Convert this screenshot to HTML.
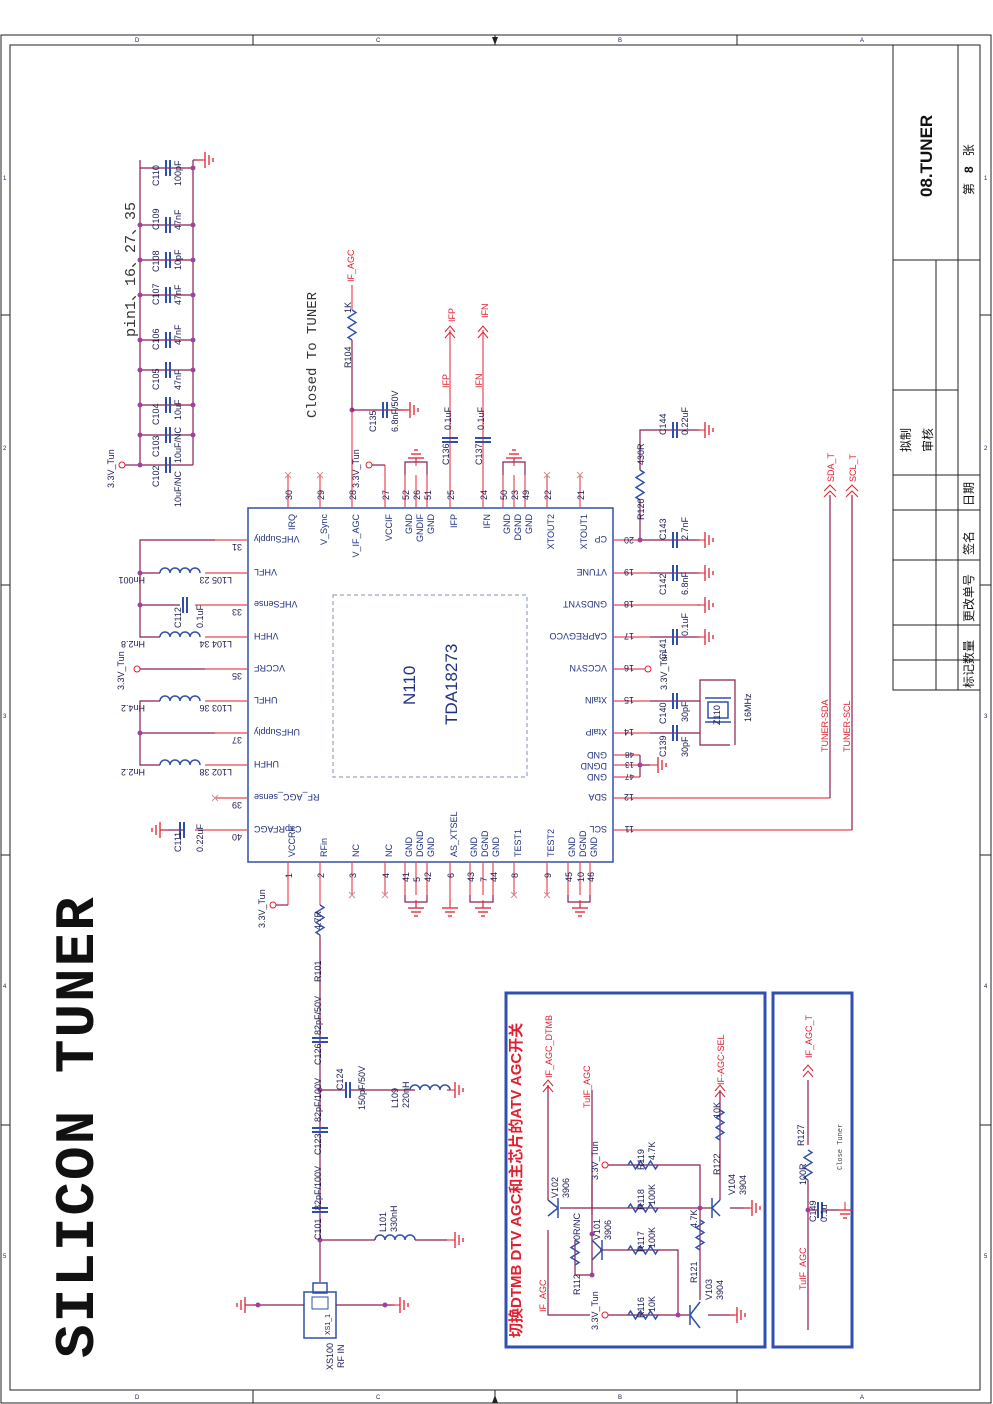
<!DOCTYPE html>
<html><head><meta charset="utf-8"><style>
html,body{margin:0;padding:0;background:#fff;}
svg{display:block;}
text{font-family:"Liberation Sans","Noto Sans CJK SC",sans-serif;font-size:9px;fill:#1a1a50;}
.r{fill:#e02030;}
.b{fill:#203080;}
.k{fill:#222;}
.w{stroke:#8a2050;stroke-width:1.2;fill:none;}
.p{stroke:#e84858;stroke-width:1.2;fill:none;}
.c{stroke:#3050a8;stroke-width:1.5;fill:none;}
.d{fill:#a040a0;}
</style></head><body>
<svg width="993" height="1404" viewBox="0 0 993 1404" xmlns="http://www.w3.org/2000/svg">
<defs>
<g id="gR"><line x1="-8" y1="0" x2="0" y2="0" stroke="#e02030"/><line x1="0" y1="-8" x2="0" y2="8" stroke="#e02030" stroke-width="1.3"/><line x1="4" y1="-5" x2="4" y2="5" stroke="#e02030" stroke-width="1.3"/><line x1="8" y1="-2" x2="8" y2="2" stroke="#e02030" stroke-width="1.3"/></g>
<g id="ind"><path d="M0,0 a5,5 0 0 1 10,0 a5,5 0 0 1 10,0 a5,5 0 0 1 10,0 a5,5 0 0 1 10,0" stroke="#3050a8" stroke-width="1.5" fill="none"/></g>
<g id="res"><path d="M0,0 l4,2.5 l-8,5 l8,5 l-8,5 l8,5 l-8,5 l4,2.5" stroke="#3050a8" stroke-width="1.4" fill="none"/></g>
<g id="capH"><line x1="-2" y1="-8" x2="-2" y2="8" stroke="#3050a8" stroke-width="2"/><line x1="2" y1="-8" x2="2" y2="8" stroke="#3050a8" stroke-width="2"/></g>
<g id="capV"><line x1="-8" y1="-2" x2="8" y2="-2" stroke="#3050a8" stroke-width="2"/><line x1="-8" y1="2" x2="8" y2="2" stroke="#3050a8" stroke-width="2"/></g>
<g id="xm"><line x1="-3" y1="-3" x2="3" y2="3" stroke="#d09090"/><line x1="-3" y1="3" x2="3" y2="-3" stroke="#d09090"/></g>
</defs>

<!-- frame -->
<rect x="1" y="35" width="990" height="1368" fill="none" stroke="#222" stroke-width="1"/>
<rect x="10" y="45" width="970" height="1345" fill="none" stroke="#222" stroke-width="1"/>
<g stroke="#222">
<line x1="253" y1="35" x2="253" y2="45"/><line x1="495" y1="35" x2="495" y2="45"/><line x1="737" y1="35" x2="737" y2="45"/>
<line x1="253" y1="1390" x2="253" y2="1403"/><line x1="495" y1="1390" x2="495" y2="1403"/><line x1="737" y1="1390" x2="737" y2="1403"/>
<line x1="1" y1="315" x2="10" y2="315"/><line x1="1" y1="585" x2="10" y2="585"/><line x1="1" y1="855" x2="10" y2="855"/><line x1="1" y1="1125" x2="10" y2="1125"/>
<line x1="980" y1="315" x2="991" y2="315"/><line x1="980" y1="585" x2="991" y2="585"/><line x1="980" y1="855" x2="991" y2="855"/><line x1="980" y1="1125" x2="991" y2="1125"/>
</g>
<g font-size="6">
<text x="135" y="42" style="font-size:6px">D</text><text x="376" y="42" style="font-size:6px">C</text><text x="618" y="42" style="font-size:6px">B</text><text x="860" y="42" style="font-size:6px">A</text>
<text x="135" y="1399" style="font-size:6px">D</text><text x="376" y="1399" style="font-size:6px">C</text><text x="618" y="1399" style="font-size:6px">B</text><text x="860" y="1399" style="font-size:6px">A</text>
<text x="3" y="180" style="font-size:6px">1</text><text x="3" y="450" style="font-size:6px">2</text><text x="3" y="718" style="font-size:6px">3</text><text x="3" y="988" style="font-size:6px">4</text><text x="3" y="1258" style="font-size:6px">5</text>
<text x="984" y="180" style="font-size:6px">1</text><text x="984" y="450" style="font-size:6px">2</text><text x="984" y="718" style="font-size:6px">3</text><text x="984" y="988" style="font-size:6px">4</text><text x="984" y="1258" style="font-size:6px">5</text>
</g>
<polygon points="492,37 498,37 495,45" fill="#222"/><polygon points="492,1403 498,1403 495,1395" fill="#222"/>

<!-- title block -->
<g stroke="#222" fill="none">
<rect x="893" y="45" width="87" height="645"/>
<line x1="893" y1="260" x2="980" y2="260"/>
<line x1="936" y1="260" x2="936" y2="690"/><line x1="958" y1="45" x2="958" y2="690"/>
<line x1="893" y1="390" x2="958" y2="390"/><line x1="893" y1="475" x2="980" y2="475"/>
<line x1="893" y1="510" x2="980" y2="510"/><line x1="893" y1="560" x2="980" y2="560"/>
<line x1="893" y1="625" x2="980" y2="625"/><line x1="893" y1="660" x2="980" y2="660"/>
</g>
<text transform="translate(932,197) rotate(-90)" style="font-size:17px;font-weight:bold;fill:#111">08.TUNER</text>
<text transform="translate(973,195) rotate(-90)" style="font-size:12px;fill:#111">第&#160;&#160;&#160;<tspan font-weight="bold">8</tspan>&#160;&#160;&#160;张</text>
<text transform="translate(910,452) rotate(-90)" style="font-size:12px;fill:#111">拟制</text>
<text transform="translate(932,452) rotate(-90)" style="font-size:12px;fill:#111">审核</text>
<text transform="translate(973,506) rotate(-90)" style="font-size:12px;fill:#111">日期</text>
<text transform="translate(973,555) rotate(-90)" style="font-size:12px;fill:#111">签名</text>
<text transform="translate(973,622) rotate(-90)" style="font-size:12px;fill:#111">更改单号</text>
<text transform="translate(973,688) rotate(-90)" style="font-size:12px;fill:#111">标记数量</text>

<!-- big title -->
<text transform="translate(93,1358) rotate(-90)" style="font-family:'Liberation Mono',monospace;font-size:56px;font-weight:bold;fill:#111;letter-spacing:2px">SILICON TUNER</text>
<text transform="translate(135,337) rotate(-90)" style="font-family:'Liberation Mono','Noto Sans CJK SC',monospace;font-size:15px;fill:#333">pin1、16、27、35</text>
<text transform="translate(316,418) rotate(-90)" style="font-family:'Liberation Mono',monospace;font-size:14px;fill:#333">Closed To TUNER</text>

<!-- IC -->
<rect x="248" y="508" width="365" height="354" fill="none" stroke="#3050a8" stroke-width="1.5"/>
<rect x="333" y="595" width="194" height="182" fill="none" stroke="#8090c0" stroke-dasharray="4,3"/>
<text transform="translate(415,705) rotate(-90)" style="font-size:17px;fill:#203080">N110</text>
<text transform="translate(457,725) rotate(-90)" style="font-size:17px;fill:#203080">TDA18273</text>

<!-- top pins -->
<g class="p">
<line x1="288" y1="475" x2="288" y2="508"/><line x1="320" y1="475" x2="320" y2="508"/><line x1="352" y1="410" x2="352" y2="508"/><line x1="385" y1="465" x2="385" y2="508"/>
<line x1="405" y1="475" x2="405" y2="508"/><line x1="416" y1="475" x2="416" y2="508"/><line x1="427" y1="475" x2="427" y2="508"/>
<line x1="450" y1="330" x2="450" y2="508"/><line x1="483" y1="330" x2="483" y2="508"/>
<line x1="503" y1="475" x2="503" y2="508"/><line x1="514" y1="475" x2="514" y2="508"/><line x1="525" y1="475" x2="525" y2="508"/>
<line x1="547" y1="475" x2="547" y2="508"/><line x1="580" y1="475" x2="580" y2="508"/>
</g>
<use href="#xm" x="288" y="475"/><use href="#xm" x="320" y="475"/><use href="#xm" x="547" y="475"/><use href="#xm" x="580" y="475"/>
<g>
<text transform="translate(292,500) rotate(-90)">30</text><text transform="translate(324,500) rotate(-90)">29</text><text transform="translate(356,500) rotate(-90)">28</text><text transform="translate(389,500) rotate(-90)">27</text>
<text transform="translate(409,500) rotate(-90)">52</text><text transform="translate(420,500) rotate(-90)">26</text><text transform="translate(431,500) rotate(-90)">51</text>
<text transform="translate(454,500) rotate(-90)">25</text><text transform="translate(487,500) rotate(-90)">24</text>
<text transform="translate(507,500) rotate(-90)">50</text><text transform="translate(518,500) rotate(-90)">23</text><text transform="translate(529,500) rotate(-90)">49</text>
<text transform="translate(551,500) rotate(-90)">22</text><text transform="translate(584,500) rotate(-90)">21</text>
</g>
<g class="b">
<text class="b" text-anchor="end" transform="translate(295,514) rotate(-90)">IRQ</text>
<text class="b" text-anchor="end" transform="translate(327,514) rotate(-90)">V_Sync</text>
<text class="b" text-anchor="end" transform="translate(359,514) rotate(-90)">V_IF_AGC</text>
<text class="b" text-anchor="end" transform="translate(392,514) rotate(-90)">VCCIF</text>
<text class="b" text-anchor="end" transform="translate(412,514) rotate(-90)">GND</text>
<text class="b" text-anchor="end" transform="translate(423,514) rotate(-90)">GNDIF</text>
<text class="b" text-anchor="end" transform="translate(434,514) rotate(-90)">GND</text>
<text class="b" text-anchor="end" transform="translate(457,514) rotate(-90)">IFP</text>
<text class="b" text-anchor="end" transform="translate(490,514) rotate(-90)">IFN</text>
<text class="b" text-anchor="end" transform="translate(510,514) rotate(-90)">GND</text>
<text class="b" text-anchor="end" transform="translate(521,514) rotate(-90)">DGND</text>
<text class="b" text-anchor="end" transform="translate(532,514) rotate(-90)">GND</text>
<text class="b" text-anchor="end" transform="translate(554,514) rotate(-90)">XTOUT2</text>
<text class="b" text-anchor="end" transform="translate(587,514) rotate(-90)">XTOUT1</text>
</g>

<!-- top circuits -->
<circle cx="352" cy="410" r="2.5" class="d"/>
<line x1="352" y1="410" x2="352" y2="340" class="w"/>
<use href="#res" x="352" y="310"/>
<line x1="352" y1="310" x2="352" y2="285" class="p"/>
<text class="r" transform="translate(354,282) rotate(-90)">IF_AGC</text>
<text transform="translate(351,313) rotate(-90)">1K</text>
<text transform="translate(351,368) rotate(-90)">R104</text>
<line x1="352" y1="410" x2="408" y2="410" class="w"/>
<use href="#capH" x="385" y="410"/><use href="#gR" x="410" y="410"/>
<text transform="translate(376,432) rotate(-90)">C135</text>
<text transform="translate(398,432) rotate(-90)">6.8nF/50V</text>
<circle cx="369" cy="465" r="3" fill="none" stroke="#e02030"/><line x1="372" y1="465" x2="385" y2="465" class="w"/>
<text transform="translate(359,488) rotate(-90)">3.3V_Tun</text>
<path d="M405,475 V462 H427 V475" class="w"/><line x1="416" y1="462" x2="416" y2="458" class="w"/>
<use href="#gR" transform="translate(416,458) rotate(-90)"/>
<path d="M503,475 V462 H525 V475" class="w"/><line x1="514" y1="462" x2="514" y2="458" class="w"/>
<use href="#gR" transform="translate(514,458) rotate(-90)"/>
<use href="#capV" x="450" y="440"/><use href="#capV" x="483" y="440"/>
<text transform="translate(449,465) rotate(-90)">C136</text><text transform="translate(451,430) rotate(-90)">0.1uF</text>
<text transform="translate(482,465) rotate(-90)">C137</text><text transform="translate(484,430) rotate(-90)">0.1uF</text>
<text class="r" transform="translate(449,388) rotate(-90)">IFP</text><text class="r" transform="translate(482,388) rotate(-90)">IFN</text>
<path d="M445,338 l5,-6 l5,6 M445,332 l5,-6 l5,6" stroke="#e02030" fill="none"/>
<path d="M478,338 l5,-6 l5,6 M478,332 l5,-6 l5,6" stroke="#e02030" fill="none"/>
<text class="r" transform="translate(455,322) rotate(-90)">IFP</text><text class="r" transform="translate(488,318) rotate(-90)">IFN</text>

<!-- cap stack top-left -->
<g class="w"><line x1="140" y1="160" x2="140" y2="465"/><line x1="193" y1="160" x2="193" y2="465"/>
<line x1="125" y1="465" x2="140" y2="465"/><line x1="193" y1="160" x2="203" y2="160"/></g>
<circle cx="122" cy="465" r="3" fill="none" stroke="#e02030"/>
<text transform="translate(114,488) rotate(-90)">3.3V_Tun</text>
<use href="#gR" x="205" y="160"/>
<g class="w">
<line x1="140" y1="465" x2="193" y2="465"/><line x1="140" y1="435" x2="193" y2="435"/><line x1="140" y1="405" x2="193" y2="405"/><line x1="140" y1="370" x2="193" y2="370"/><line x1="140" y1="340" x2="193" y2="340"/><line x1="140" y1="295" x2="193" y2="295"/><line x1="140" y1="260" x2="193" y2="260"/><line x1="140" y1="225" x2="193" y2="225"/><line x1="140" y1="168" x2="193" y2="168"/>
</g>
<use href="#capH" x="168" y="465"/><use href="#capH" x="168" y="435"/><use href="#capH" x="168" y="405"/><use href="#capH" x="168" y="370"/><use href="#capH" x="168" y="340"/><use href="#capH" x="168" y="295"/><use href="#capH" x="168" y="260"/><use href="#capH" x="168" y="225"/><use href="#capH" x="168" y="168"/>
<g fill="#a040a0"><circle cx="140" cy="465" r="2.5"/><circle cx="140" cy="435" r="2.5"/><circle cx="193" cy="435" r="2.5"/><circle cx="140" cy="405" r="2.5"/><circle cx="193" cy="405" r="2.5"/><circle cx="140" cy="370" r="2.5"/><circle cx="193" cy="370" r="2.5"/><circle cx="140" cy="340" r="2.5"/><circle cx="193" cy="340" r="2.5"/><circle cx="140" cy="295" r="2.5"/><circle cx="193" cy="295" r="2.5"/><circle cx="140" cy="260" r="2.5"/><circle cx="193" cy="260" r="2.5"/><circle cx="140" cy="225" r="2.5"/><circle cx="193" cy="225" r="2.5"/><circle cx="193" cy="168" r="2.5"/></g>
<g>
<text transform="translate(159,487) rotate(-90)">C102</text><text transform="translate(181,507) rotate(-90)">10uF/NC</text>
<text transform="translate(159,457) rotate(-90)">C103</text><text transform="translate(181,463) rotate(-90)">10uF/NC</text>
<text transform="translate(159,425) rotate(-90)">C104</text><text transform="translate(181,420) rotate(-90)">10uF</text>
<text transform="translate(159,390) rotate(-90)">C105</text><text transform="translate(181,390) rotate(-90)">47nF</text>
<text transform="translate(159,350) rotate(-90)">C106</text><text transform="translate(181,345) rotate(-90)">47nF</text>
<text transform="translate(159,305) rotate(-90)">C107</text><text transform="translate(181,305) rotate(-90)">47nF</text>
<text transform="translate(159,272) rotate(-90)">C108</text><text transform="translate(181,270) rotate(-90)">10pF</text>
<text transform="translate(159,230) rotate(-90)">C109</text><text transform="translate(181,230) rotate(-90)">47nF</text>
<text transform="translate(159,186) rotate(-90)">C110</text><text transform="translate(181,186) rotate(-90)">100pF</text>
</g>

<!-- left pins -->
<g class="p">
<line x1="215" y1="540" x2="248" y2="540"/><line x1="205" y1="573" x2="248" y2="573"/><line x1="195" y1="605" x2="248" y2="605"/><line x1="205" y1="637" x2="248" y2="637"/>
<line x1="205" y1="669" x2="248" y2="669"/><line x1="205" y1="701" x2="248" y2="701"/><line x1="215" y1="733" x2="248" y2="733"/><line x1="205" y1="765" x2="248" y2="765"/>
<line x1="215" y1="798" x2="248" y2="798"/><line x1="195" y1="830" x2="248" y2="830"/>
</g>
<use href="#xm" x="215" y="798"/>
<g class="w">
<path d="M215,540 H140 V637 H160"/><line x1="140" y1="573" x2="160" y2="573"/><line x1="140" y1="605" x2="180" y2="605"/>
<path d="M205,669 H140"/>
<path d="M215,733 H140 V765 H160"/><path d="M140,733 V701 H160"/>
<path d="M185,830 H160"/>
</g>
<circle cx="140" cy="573" r="2.5" class="d"/><circle cx="140" cy="605" r="2.5" class="d"/><circle cx="140" cy="733" r="2.5" class="d"/>
<circle cx="137" cy="669" r="3" fill="#fff" stroke="#e02030"/>
<text transform="translate(124,690) rotate(-90)">3.3V_Tun</text>
<use href="#ind" x="160" y="573"/><use href="#ind" x="160" y="637"/><use href="#ind" x="160" y="701"/><use href="#ind" x="160" y="765"/>
<use href="#capH" x="185" y="605"/><use href="#capH" x="182" y="830"/>
<use href="#gR" transform="translate(160,830) scale(-1,1)"/>
<g>
<text transform="translate(145,577) rotate(180)">Hn001</text><text transform="translate(232,577) rotate(180)">L105 23</text>
<text transform="translate(145,641) rotate(180)">Hn2.8</text><text transform="translate(232,641) rotate(180)">L104 34</text>
<text transform="translate(145,705) rotate(180)">Hn4.2</text><text transform="translate(232,705) rotate(180)">L103 36</text>
<text transform="translate(145,769) rotate(180)">Hn2.2</text><text transform="translate(232,769) rotate(180)">L102 38</text>
<text transform="translate(242,544) rotate(180)">31</text><text transform="translate(242,609) rotate(180)">33</text><text transform="translate(242,673) rotate(180)">35</text><text transform="translate(242,737) rotate(180)">37</text><text transform="translate(242,802) rotate(180)">39</text><text transform="translate(242,834) rotate(180)">40</text>
</g>
<text transform="translate(181,628) rotate(-90)">C112</text><text transform="translate(203,628) rotate(-90)">0.1uF</text>
<text transform="translate(181,852) rotate(-90)">C111</text><text transform="translate(203,852) rotate(-90)">0.22uF</text>
<g class="b">
<text class="b" text-anchor="end" transform="translate(254,536) rotate(180)">VHFSupply</text>
<text class="b" text-anchor="end" transform="translate(254,569) rotate(180)">VHFL</text>
<text class="b" text-anchor="end" transform="translate(254,601) rotate(180)">VHFSense</text>
<text class="b" text-anchor="end" transform="translate(254,633) rotate(180)">VHFH</text>
<text class="b" text-anchor="end" transform="translate(254,665) rotate(180)">VCCRF</text>
<text class="b" text-anchor="end" transform="translate(254,697) rotate(180)">UHFL</text>
<text class="b" text-anchor="end" transform="translate(254,729) rotate(180)">UHFSupply</text>
<text class="b" text-anchor="end" transform="translate(254,761) rotate(180)">UHFH</text>
<text class="b" text-anchor="end" transform="translate(254,794) rotate(180)">RF_AGC_sense</text>
<text class="b" text-anchor="end" transform="translate(254,826) rotate(180)">CapRFAGC</text>
</g>

<!-- right pins -->
<g class="p">
<line x1="613" y1="540" x2="640" y2="540"/><line x1="613" y1="573" x2="650" y2="573"/><line x1="613" y1="605" x2="700" y2="605"/><line x1="613" y1="637" x2="650" y2="637"/>
<line x1="613" y1="669" x2="645" y2="669"/><line x1="613" y1="701" x2="650" y2="701"/><line x1="613" y1="733" x2="650" y2="733"/>
<line x1="613" y1="755" x2="640" y2="755"/><line x1="613" y1="765" x2="640" y2="765"/><line x1="613" y1="777" x2="640" y2="777"/>
<line x1="613" y1="798" x2="830" y2="798"/><line x1="613" y1="830" x2="852" y2="830"/>
</g>
<g class="w">
<path d="M640,540 V500"/><path d="M640,470 V430 H700"/><path d="M640,540 H700"/><path d="M650,573 H700"/><path d="M650,637 H700"/>
<path d="M640,755 V777 M640,765 H650"/>
<path d="M650,701 H700 V745 H730 M650,733 H700 M715,680 H735 V745"/>
<path d="M830,798 V495 M852,830 V495"/>
</g>
<path d="M640,500 l-4,-2.5 l8,-5 l-8,-5 l8,-5 l-8,-5 l8,-5 l-4,-2.5" class="c"/>
<circle cx="640" cy="540" r="2.5" class="d"/><circle cx="640" cy="765" r="2.5" class="d"/>
<use href="#capH" x="675" y="430"/><use href="#capH" x="675" y="540"/><use href="#capH" x="675" y="573"/><use href="#capH" x="675" y="637"/><use href="#capH" x="675" y="701"/><use href="#capH" x="675" y="733"/>
<use href="#gR" x="705" y="430"/><use href="#gR" x="705" y="540"/><use href="#gR" x="705" y="573"/><use href="#gR" x="705" y="605"/><use href="#gR" x="705" y="637"/><use href="#gR" x="658" y="765"/>
<circle cx="648" cy="669" r="3" fill="#fff" stroke="#e02030"/>
<text transform="translate(667,690) rotate(-90)">3.3V_Tun</text>
<rect x="708" y="702" width="20" height="16" fill="none" stroke="#3050a8" stroke-width="1.5"/>
<line x1="705" y1="698" x2="731" y2="698" stroke="#3050a8" stroke-width="1.5"/><line x1="705" y1="722" x2="731" y2="722" stroke="#3050a8" stroke-width="1.5"/>
<path d="M700,701 V680 H715" class="w"/>
<text transform="translate(720,725) rotate(-90)">Z110</text><text transform="translate(751,722) rotate(-90)">16MHz</text>
<g>
<text transform="translate(644,520) rotate(-90)">R120</text><text transform="translate(644,465) rotate(-90)">430R</text>
<text transform="translate(666,435) rotate(-90)">C144</text><text transform="translate(688,435) rotate(-90)">0.22uF</text>
<text transform="translate(666,540) rotate(-90)">C143</text><text transform="translate(688,540) rotate(-90)">2.7nF</text>
<text transform="translate(666,595) rotate(-90)">C142</text><text transform="translate(688,595) rotate(-90)">6.8nF</text>
<text transform="translate(666,660) rotate(-90)">C141</text><text transform="translate(688,636) rotate(-90)">0.1uF</text>
<text transform="translate(666,724) rotate(-90)">C140</text><text transform="translate(688,722) rotate(-90)">30pF</text>
<text transform="translate(666,757) rotate(-90)">C139</text><text transform="translate(688,757) rotate(-90)">30pF</text>
</g>
<g>
<text transform="translate(634,537) rotate(180)">20</text><text transform="translate(634,569) rotate(180)">19</text><text transform="translate(634,601) rotate(180)">18</text><text transform="translate(634,633) rotate(180)">17</text><text transform="translate(634,665) rotate(180)">16</text><text transform="translate(634,697) rotate(180)">15</text><text transform="translate(634,729) rotate(180)">14</text>
<text transform="translate(634,752) rotate(180)" style="font-size:8px">48</text><text transform="translate(634,762) rotate(180)" style="font-size:8px">13</text><text transform="translate(634,774) rotate(180)" style="font-size:8px">47</text>
<text transform="translate(634,794) rotate(180)">12</text><text transform="translate(634,826) rotate(180)">11</text>
</g>
<g>
<text class="b" transform="translate(607,536) rotate(180)">CP</text>
<text class="b" transform="translate(607,569) rotate(180)">VTUNE</text>
<text class="b" transform="translate(607,601) rotate(180)">GNDSYNT</text>
<text class="b" transform="translate(607,633) rotate(180)">CAPREGVCO</text>
<text class="b" transform="translate(607,665) rotate(180)">VCCSYN</text>
<text class="b" transform="translate(607,697) rotate(180)">XtalN</text>
<text class="b" transform="translate(607,729) rotate(180)">XtalP</text>
<text class="b" transform="translate(607,752) rotate(180)">GND</text>
<text class="b" transform="translate(607,763) rotate(180)">DGND</text>
<text class="b" transform="translate(607,774) rotate(180)">GND</text>
<text class="b" transform="translate(607,794) rotate(180)">SDA</text>
<text class="b" transform="translate(607,826) rotate(180)">SCL</text>
</g>
<path d="M824,497 l6,-6 l6,6 M824,491 l6,-6 l6,6" stroke="#e02030" fill="none"/>
<path d="M846,497 l6,-6 l6,6 M846,491 l6,-6 l6,6" stroke="#e02030" fill="none"/>
<text class="r" transform="translate(834,482) rotate(-90)">SDA_T</text>
<text class="r" transform="translate(856,482) rotate(-90)">SCL_T</text>
<text class="r" transform="translate(828,752) rotate(-90)">TUNER-SDA</text>
<text class="r" transform="translate(850,752) rotate(-90)">TUNER-SCL</text>

<!-- bottom pins -->
<g class="p">
<line x1="288" y1="862" x2="288" y2="905"/><line x1="320" y1="862" x2="320" y2="905"/><line x1="352" y1="862" x2="352" y2="895"/><line x1="385" y1="862" x2="385" y2="895"/>
<line x1="405" y1="862" x2="405" y2="895"/><line x1="416" y1="862" x2="416" y2="895"/><line x1="427" y1="862" x2="427" y2="895"/>
<line x1="450" y1="862" x2="450" y2="905"/>
<line x1="470" y1="862" x2="470" y2="895"/><line x1="483" y1="862" x2="483" y2="895"/><line x1="493" y1="862" x2="493" y2="895"/>
<line x1="514" y1="862" x2="514" y2="895"/><line x1="547" y1="862" x2="547" y2="895"/>
<line x1="568" y1="862" x2="568" y2="895"/><line x1="580" y1="862" x2="580" y2="895"/><line x1="590" y1="862" x2="590" y2="895"/>
</g>
<use href="#xm" x="352" y="895"/><use href="#xm" x="385" y="895"/><use href="#xm" x="514" y="895"/><use href="#xm" x="547" y="895"/>
<g class="w"><path d="M405,895 V902 H427 V895 M416,902 V907"/><path d="M470,895 V902 H493 V895 M483,902 V907"/><path d="M568,895 V902 H590 V895 M580,902 V907"/>
<path d="M288,905 H276"/></g>
<use href="#gR" transform="translate(416,908) rotate(90)"/><use href="#gR" transform="translate(450,908) rotate(90)"/><use href="#gR" transform="translate(483,908) rotate(90)"/><use href="#gR" transform="translate(580,908) rotate(90)"/>
<circle cx="273" cy="905" r="3" fill="#fff" stroke="#e02030"/>
<text transform="translate(265,928) rotate(-90)">3.3V_Tun</text>
<g>
<text transform="translate(292,878) rotate(-90)">1</text><text transform="translate(324,878) rotate(-90)">2</text><text transform="translate(356,878) rotate(-90)">3</text><text transform="translate(389,878) rotate(-90)">4</text>
<text transform="translate(409,882) rotate(-90)">41</text><text transform="translate(420,882) rotate(-90)">5</text><text transform="translate(431,882) rotate(-90)">42</text><text transform="translate(454,878) rotate(-90)">6</text>
<text transform="translate(474,882) rotate(-90)">43</text><text transform="translate(487,882) rotate(-90)">7</text><text transform="translate(497,882) rotate(-90)">44</text>
<text transform="translate(518,878) rotate(-90)">8</text><text transform="translate(551,878) rotate(-90)">9</text>
<text transform="translate(572,882) rotate(-90)">45</text><text transform="translate(584,882) rotate(-90)">10</text><text transform="translate(594,882) rotate(-90)">46</text>
</g>
<g>
<text class="b" transform="translate(295,857) rotate(-90)">VCCRF</text>
<text class="b" transform="translate(327,857) rotate(-90)">RFin</text>
<text class="b" transform="translate(359,857) rotate(-90)">NC</text>
<text class="b" transform="translate(392,857) rotate(-90)">NC</text>
<text class="b" transform="translate(412,857) rotate(-90)">GND</text><text class="b" transform="translate(423,857) rotate(-90)">DGND</text><text class="b" transform="translate(434,857) rotate(-90)">GND</text>
<text class="b" transform="translate(457,857) rotate(-90)">AS_XTSEL</text>
<text class="b" transform="translate(477,857) rotate(-90)">GND</text><text class="b" transform="translate(488,857) rotate(-90)">DGND</text><text class="b" transform="translate(499,857) rotate(-90)">GND</text>
<text class="b" transform="translate(521,857) rotate(-90)">TEST1</text>
<text class="b" transform="translate(554,857) rotate(-90)">TEST2</text>
<text class="b" transform="translate(575,857) rotate(-90)">GND</text><text class="b" transform="translate(586,857) rotate(-90)">DGND</text><text class="b" transform="translate(597,857) rotate(-90)">GND</text>
</g>

<!-- RF input chain -->
<use href="#res" x="320" y="905"/>
<g class="w"><path d="M320,935 V1282"/><path d="M320,1090 H345 M350,1090 H415"/><path d="M320,1240 H375"/></g>
<use href="#capV" x="320" y="1040"/><use href="#capV" x="320" y="1130"/><use href="#capV" x="320" y="1210"/>
<use href="#capH" x="348" y="1090"/>
<use href="#ind" x="375" y="1240"/><use href="#ind" x="410" y="1090"/>
<line x1="415" y1="1240" x2="447" y2="1240" class="w"/><line x1="450" y1="1090" x2="447" y2="1090" class="w"/>
<use href="#gR" x="455" y="1240"/><use href="#gR" x="455" y="1090"/>
<circle cx="320" cy="1090" r="2.5" class="d"/><circle cx="320" cy="1240" r="2.5" class="d"/>
<g>
<text transform="translate(321,930) rotate(-90)">4.7R</text><text transform="translate(321,982) rotate(-90)">R101</text>
<text transform="translate(321,1065) rotate(-90)">C126</text><text transform="translate(321,1035) rotate(-90)">82pF/50V</text>
<text transform="translate(343,1090) rotate(-90)">C124</text><text transform="translate(365,1110) rotate(-90)">150pF/50V</text>
<text transform="translate(321,1155) rotate(-90)">C123</text><text transform="translate(321,1122) rotate(-90)">82pF/100V</text>
<text transform="translate(321,1240) rotate(-90)">C101</text><text transform="translate(321,1210) rotate(-90)">82pF/100V</text>
<text transform="translate(398,1108) rotate(-90)">L109</text><text transform="translate(409,1108) rotate(-90)">220nH</text>
<text transform="translate(386,1232) rotate(-90)">L101</text><text transform="translate(397,1232) rotate(-90)">330nH</text>
</g>
<rect x="304" y="1292" width="32" height="46" fill="none" stroke="#3050a8" stroke-width="1.5"/>
<rect x="313" y="1283" width="14" height="10" fill="none" stroke="#3050a8" stroke-width="1.5"/>
<rect x="312" y="1297" width="16" height="12" fill="none" stroke="#3050a8"/>
<g class="w"><path d="M245,1305 H304 M336,1305 H395"/></g>
<circle cx="258" cy="1305" r="2.5" class="d"/><circle cx="385" cy="1305" r="2.5" class="d"/>
<use href="#gR" transform="translate(245,1305) scale(-1,1)"/><use href="#gR" x="400" y="1305"/>
<text transform="translate(333,1370) rotate(-90)">XS100</text><text transform="translate(344,1368) rotate(-90)">RF IN</text>
<text transform="translate(330,1335) rotate(-90)" style="font-size:7px">XS1_1</text>

<!-- blue box 1 -->
<rect x="506" y="993" width="259" height="354" fill="none" stroke="#3050b0" stroke-width="3"/>
<text class="r" transform="translate(521,1338) rotate(-90)" style="font-size:15px;font-weight:bold">切换DTMB DTV AGC和主芯片的ATV AGC开关</text>
<g class="w">
<path d="M548,1085 V1200 M548,1230 V1315 H590 M592,1215 V1090"/>
<path d="M560,1208 H700 M600,1250 H678 V1315 M605,1315 H690"/>
<path d="M605,1165 H700 V1300 M700,1208 H712 M720,1200 V1090"/>
<path d="M592,1180 V1275 M575,1240 V1275 H592"/>
<path d="M708,1315 H735 M730,1208 H750"/>
</g>
<path d="M548,1200 L558,1208 L548,1216 M558,1198 V1218" class="c"/>
<path d="M592,1240 L602,1250 L592,1260 M602,1240 V1260" class="c"/>
<path d="M700,1302 L690,1315 L700,1328 M690,1305 V1325" class="c"/>
<path d="M720,1200 L712,1208 L720,1216 M712,1198 V1218" class="c"/>
<path d="M575,1240 l4,2.5 l-8,5 l8,5 l-8,5 l8,5 l-4,2.5" class="c"/>
<path d="M628,1208 l2.5,-4 l5,8 l5,-8 l5,8 l5,-8 l5,8 l2.5,-4" class="c"/>
<path d="M628,1250 l2.5,-4 l5,8 l5,-8 l5,8 l5,-8 l5,8 l2.5,-4" class="c"/>
<path d="M628,1315 l2.5,-4 l5,8 l5,-8 l5,8 l5,-8 l5,8 l2.5,-4" class="c"/>
<path d="M628,1165 l2.5,-4 l5,8 l5,-8 l5,8 l5,-8 l5,8 l2.5,-4" class="c"/>
<use href="#res" x="700" y="1220"/><use href="#res" x="720" y="1110"/>
<circle cx="605" cy="1165" r="3" fill="#fff" stroke="#e02030"/><circle cx="605" cy="1315" r="3" fill="#fff" stroke="#e02030"/>
<circle cx="592" cy="1234" r="2.5" class="d"/><circle cx="592" cy="1275" r="2.5" class="d"/><circle cx="700" cy="1208" r="2.5" class="d"/><circle cx="678" cy="1315" r="2.5" class="d"/>
<use href="#gR" x="752" y="1208"/><use href="#gR" x="737" y="1315"/>
<path d="M543,1092 l5,-6 l5,6 M543,1086 l5,-6 l5,6" stroke="#e02030" fill="none"/>
<path d="M715,1097 l5,-6 l5,6 M715,1091 l5,-6 l5,6" stroke="#e02030" fill="none"/>
<text class="r" transform="translate(552,1078) rotate(-90)">IF_AGC_DTMB</text>
<text class="r" transform="translate(590,1108) rotate(-90)">TuIF_AGC</text>
<text class="r" transform="translate(724,1085) rotate(-90)">IF-AGC-SEL</text>
<text class="r" transform="translate(546,1312) rotate(-90)">IF_AGC</text>
<g>
<text transform="translate(558,1198) rotate(-90)">V102</text><text transform="translate(569,1198) rotate(-90)">3906</text>
<text transform="translate(600,1240) rotate(-90)">V101</text><text transform="translate(611,1240) rotate(-90)">3906</text>
<text transform="translate(580,1240) rotate(-90)">0R/NC</text><text transform="translate(580,1295) rotate(-90)">R112</text>
<text transform="translate(598,1180) rotate(-90)">3.3V_Tun</text><text transform="translate(598,1330) rotate(-90)">3.3V_Tun</text>
<text transform="translate(644,1170) rotate(-90)">R119</text><text transform="translate(655,1160) rotate(-90)">4.7K</text>
<text transform="translate(644,1210) rotate(-90)">R118</text><text transform="translate(655,1205) rotate(-90)">100K</text>
<text transform="translate(644,1252) rotate(-90)">R117</text><text transform="translate(655,1248) rotate(-90)">100K</text>
<text transform="translate(644,1318) rotate(-90)">R116</text><text transform="translate(655,1312) rotate(-90)">10K</text>
<text transform="translate(697,1228) rotate(-90)">4.7K</text><text transform="translate(697,1283) rotate(-90)">R121</text>
<text transform="translate(712,1300) rotate(-90)">V103</text><text transform="translate(723,1300) rotate(-90)">3904</text>
<text transform="translate(720,1175) rotate(-90)">R122</text><text transform="translate(720,1118) rotate(-90)">10K</text>
<text transform="translate(735,1195) rotate(-90)">V104</text><text transform="translate(746,1195) rotate(-90)">3904</text>
</g>

<!-- blue box 2 -->
<rect x="773" y="993" width="79" height="354" fill="none" stroke="#3050b0" stroke-width="3"/>
<path d="M803,1077 l5,-6 l5,6 M803,1071 l5,-6 l5,6" stroke="#e02030" fill="none"/>
<text class="r" transform="translate(812,1058) rotate(-90)">IF_AGC_T</text>
<g class="w"><path d="M808,1080 V1145 M808,1180 V1330 M808,1210 H818 M822,1210 H838"/></g>
<use href="#res" x="808" y="1150"/><use href="#capH" x="820" y="1210"/>
<use href="#gR" transform="translate(845,1210) rotate(90)"/>
<circle cx="808" cy="1210" r="2.5" class="d"/>
<text transform="translate(804,1146) rotate(-90)">R127</text><text transform="translate(806,1185) rotate(-90)">100R</text>
<text transform="translate(816,1222) rotate(-90)">C149</text><text transform="translate(827,1222) rotate(-90)">0.1u</text>
<text transform="translate(842,1170) rotate(-90)" style="font-family:'Liberation Mono',monospace;font-size:7px;fill:#444">Close Tuner</text>
<text class="r" transform="translate(806,1290) rotate(-90)">TuIF_AGC</text>
</svg>
</body></html>
